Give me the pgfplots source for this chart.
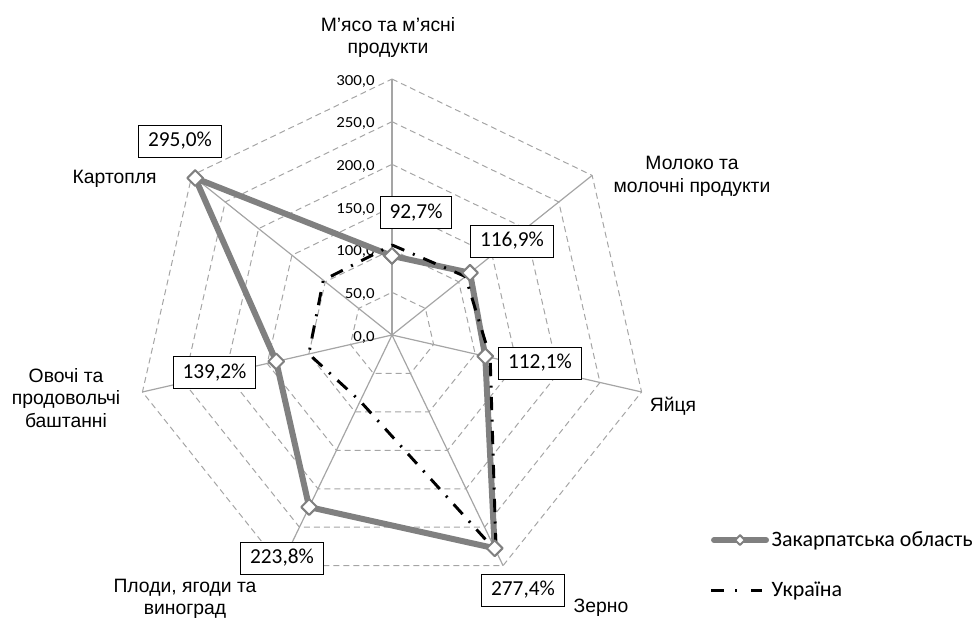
\documentclass[border=0pt]{standalone}
\usepackage{pgfplots}
\pgfplotsset{compat=1.18}
\usepackage{fontspec}
\setmainfont{Carlito}
\newfontfamily\arialf{Liberation Sans}
\newfontfamily\tickf{Carlito}[FakeStretch=1.1]
\definecolor{zak}{RGB}{128,128,128}
\definecolor{gridc}{RGB}{165,165,165}
\definecolor{spokec}{RGB}{165,165,165}
\tikzset{ticklab/.style={anchor=east, inner sep=0pt, yshift=-1.5pt, font=\tickf\fontsize{11.5}{13}\selectfont}}
\begin{document}
\begin{tikzpicture}
\pgfplotsset{
  gridline/.style={gridc, line width=0.75pt, dash pattern=on 4.5pt off 3pt, forget plot, data cs=polar},
  spoke/.style={spokec, line width=0.9pt, forget plot, data cs=polar},
}
\begin{axis}[
  at={(294pt,-251.25pt)}, anchor=origin,
  x=0.64pt, y=0.64pt,
  xmin=-320, xmax=320, ymin=-320, ymax=320,
  hide axis, clip=false,
  legend cell align=left,
  legend style={draw=none, fill=none, at={(1.081,0.0788)}, anchor=west,
    inner xsep=0pt, inner ysep=0pt, row sep=21pt,
    font=\fontsize{16.5}{19}\selectfont},
]
% grid heptagons
\addplot[gridline] coordinates {(90,50)(38.571,50)(-12.857,50)(-64.286,50)(-115.714,50)(-167.143,50)(141.429,50)(90,50)};
\addplot[gridline] coordinates {(90,100)(38.571,100)(-12.857,100)(-64.286,100)(-115.714,100)(-167.143,100)(141.429,100)(90,100)};
\addplot[gridline] coordinates {(90,150)(38.571,150)(-12.857,150)(-64.286,150)(-115.714,150)(-167.143,150)(141.429,150)(90,150)};
\addplot[gridline] coordinates {(90,200)(38.571,200)(-12.857,200)(-64.286,200)(-115.714,200)(-167.143,200)(141.429,200)(90,200)};
\addplot[gridline] coordinates {(90,250)(38.571,250)(-12.857,250)(-64.286,250)(-115.714,250)(-167.143,250)(141.429,250)(90,250)};
\addplot[gridline] coordinates {(90,300)(38.571,300)(-12.857,300)(-64.286,300)(-115.714,300)(-167.143,300)(141.429,300)(90,300)};
% spokes
\addplot[spoke] coordinates {(90,0)(90,300)};
\addplot[spoke] coordinates {(38.571,0)(38.571,300)};
\addplot[spoke] coordinates {(-12.857,0)(-12.857,300)};
\addplot[spoke] coordinates {(-64.286,0)(-64.286,300)};
\addplot[spoke] coordinates {(-115.714,0)(-115.714,300)};
\addplot[spoke] coordinates {(-167.143,0)(-167.143,300)};
\addplot[spoke] coordinates {(141.429,0)(141.429,300)};
% tick labels
\node[ticklab] at (axis cs:-20,0) {0,0};
\node[ticklab] at (axis cs:-20,50) {50,0};
\node[ticklab] at (axis cs:-20,100) {100,0};
\node[ticklab] at (axis cs:-20,150) {150,0};
\node[ticklab] at (axis cs:-20,200) {200,0};
\node[ticklab] at (axis cs:-20,250) {250,0};
\node[ticklab] at (axis cs:-20,300) {300,0};
% Zakarpattia
\addplot[zak, line width=4.5pt, line join=round, data cs=polar,
  mark=square*, mark size=4.2pt,
  mark options={fill=white, draw=zak, line width=1.5pt, rotate=45, solid},
  legend image code/.code={
    \draw[zak, line width=4.5pt, line cap=round, mark=square*, mark size=2.6pt,
      mark options={fill=white, draw=zak, line width=1.5pt, rotate=45, solid},
      mark repeat=2, mark phase=2]
      plot coordinates {(2.25pt,0pt)(21.75pt,0pt)(41.25pt,0pt)};}
] coordinates {(90,92.7)(38.571,116.9)(-12.857,112.1)(-64.286,277.4)(-115.714,223.8)(-167.143,139.2)(141.429,295.0)(90,92.7)};
\addlegendentry{Закарпатська область}
% Ukraine
\addplot[black, line width=2.2pt, data cs=polar,
  dash pattern=on 10pt off 7pt on 1.5pt off 7pt,
  legend image code/.code={
    \draw[black, line width=2.2pt, dash pattern=on 9.75pt off 8.25pt on 1.5pt off 10.5pt]
      (0pt,0pt) -- (38.25pt,0pt);}
] coordinates {(90,105.5)(38.571,110)(-12.857,118)(-64.286,281)(-115.714,86)(-167.143,100)(141.429,103)(90,105.5)};
\addlegendentry{Україна}
\end{axis}
\begin{scope}[x=0.75pt, y=-0.75pt]
% category labels
\begin{scope}[every node/.style={anchor=base, inner sep=0pt, font=\arialf\fontsize{14.5}{17}\selectfont}]
\node at (388,31) {М’ясо та м’ясні};
\node at (388,53.5) {продукти};
\node at (692,169) {Молоко та};
\node at (692,192) {молочні продукти};
\node at (673,411) {Яйця};
\node at (601,612) {Зерно};
\node at (185,592) {Плоди, ягоди та};
\node at (185,614) {виноград};
\node at (66,382) {Овочі та};
\node at (66,404.5) {продовольчі};
\node at (66,427) {баштанні};
\node at (114.7,183) {Картопля};
\end{scope}
% data labels
\begin{scope}[every node/.style={draw=black, line width=0.75pt, fill=white, inner xsep=7pt, inner ysep=0pt, minimum height=24pt, font=\fontsize{16}{18}\selectfont}]
\node at (180,141) {295,0\%};
\node at (416,212.5) {92,7\%};
\node at (512,241) {116,9\%};
\node at (540,363) {112,1\%};
\node at (523,590) {277,4\%};
\node at (282,558) {223,8\%};
\node at (214.5,372.5) {139,2\%};
\end{scope}
\pgfresetboundingbox
\path[use as bounding box] (0,0) rectangle (977,619);
\end{scope}
\end{tikzpicture}
\end{document}
